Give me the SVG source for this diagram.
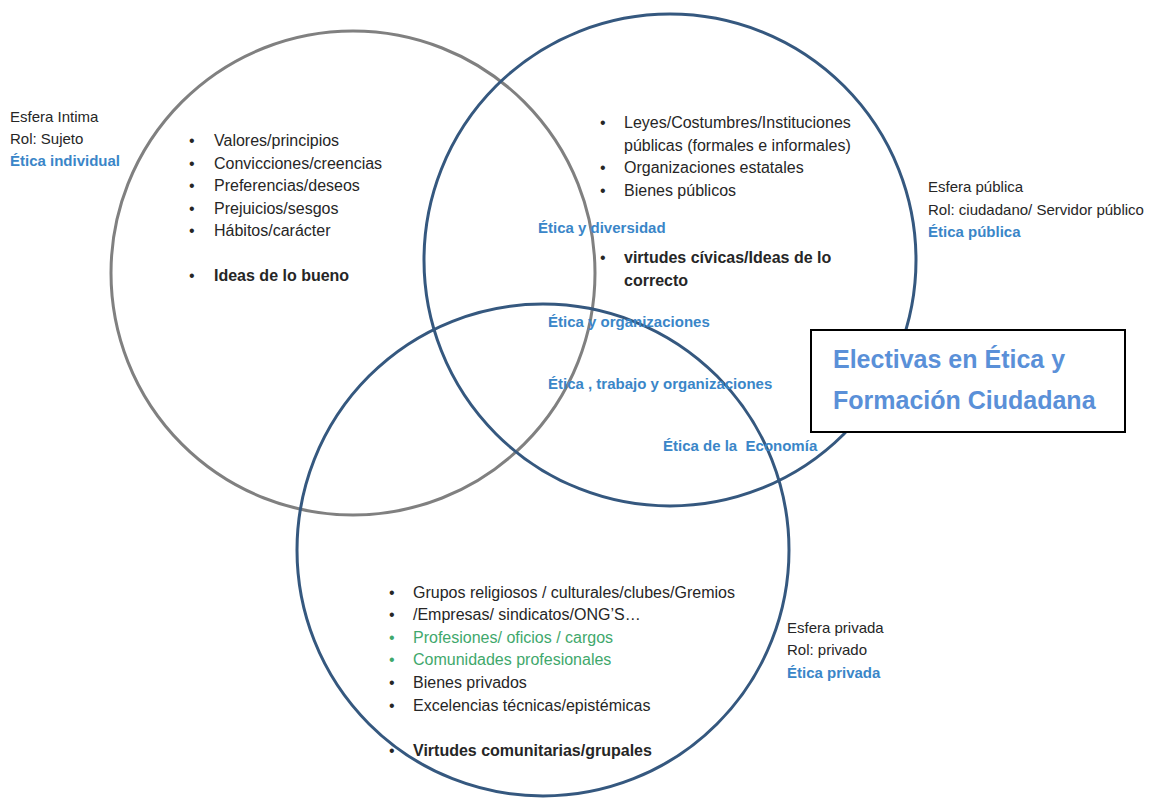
<svg xmlns="http://www.w3.org/2000/svg" width="1168" height="798" viewBox="0 0 1168 798">
<style>
text{font-family:"Liberation Sans",Arial,sans-serif;font-size:16px;fill:#262626}
.b{font-weight:bold}
.lbl{font-size:15px;fill:#262626}
.blue{font-size:15px;font-weight:bold;fill:#3a86c8}
.green{fill:#3fa86c}
.circG{fill:none;stroke:#808080;stroke-width:3}
.circB{fill:none;stroke:#35587f;stroke-width:3}
.title{font-size:25px;font-weight:bold;fill:#5a90d8}
</style>
<rect width="1168" height="798" fill="#ffffff"/>
<g id="circle-intima"><circle class="circG" cx="353" cy="273" r="242"/></g>
<g id="circle-publica"><circle class="circB" cx="670" cy="260" r="246"/></g>
<g id="circle-privada"><circle class="circB" cx="543" cy="550" r="246"/></g>

<g id="label-intima">
<text class="lbl" x="10" y="122">Esfera Intima</text>
<text class="lbl" x="10" y="144">Rol: Sujeto</text>
<text class="blue" x="10" y="166">Ética individual</text>
</g>

<g id="list-intima">
<text x="189" y="146">•</text><text x="214" y="146">Valores/principios</text>
<text x="189" y="169">•</text><text x="214" y="169">Convicciones/creencias</text>
<text x="189" y="191">•</text><text x="214" y="191">Preferencias/deseos</text>
<text x="189" y="214">•</text><text x="214" y="214">Prejuicios/sesgos</text>
<text x="189" y="236">•</text><text x="214" y="236">Hábitos/carácter</text>
<text x="189" y="281">•</text><text class="b" x="214" y="281">Ideas de lo bueno</text>
</g>

<g id="list-publica">
<text x="600" y="128">•</text><text x="624" y="128">Leyes/Costumbres/Instituciones</text>
<text x="624" y="151">públicas (formales e informales)</text>
<text x="600" y="173">•</text><text x="624" y="173">Organizaciones estatales</text>
<text x="600" y="196">•</text><text x="624" y="196">Bienes públicos</text>
<text class="blue" x="538" y="233">Ética y diversidad</text>
<text x="600" y="263">•</text><text class="b" x="624" y="263">virtudes cívicas/Ideas de lo</text>
<text class="b" x="624" y="286">correcto</text>
</g>

<g id="label-publica">
<text class="lbl" x="928" y="192">Esfera pública</text>
<text class="lbl" x="928" y="215">Rol: ciudadano/ Servidor público</text>
<text class="blue" x="928" y="237">Ética pública</text>
</g>

<g id="intersections">
<text class="blue" x="548" y="327">Ética y organizaciones</text>
<text class="blue" x="548" y="389">Ética , trabajo y organizaciones</text>
<text class="blue" x="663" y="451" xml:space="preserve">Ética de la  Economía</text>
</g>

<g id="list-privada">
<text x="389" y="598">•</text><text x="413" y="598">Grupos religiosos / culturales/clubes/Gremios</text>
<text x="389" y="620">•</text><text x="413" y="620">/Empresas/ sindicatos/ONG’S…</text>
<text class="green" x="389" y="643">•</text><text class="green" x="413" y="643">Profesiones/ oficios / cargos</text>
<text class="green" x="389" y="665">•</text><text class="green" x="413" y="665">Comunidades profesionales</text>
<text x="389" y="688">•</text><text x="413" y="688">Bienes privados</text>
<text x="389" y="711">•</text><text x="413" y="711">Excelencias técnicas/epistémicas</text>
<text x="389" y="756">•</text><text class="b" x="413" y="756">Virtudes comunitarias/grupales</text>
</g>

<g id="label-privada">
<text class="lbl" x="787" y="633">Esfera privada</text>
<text class="lbl" x="787" y="655">Rol: privado</text>
<text class="blue" x="787" y="678">Ética privada</text>
</g>

<g id="title-box">
<rect x="811" y="330" width="314" height="102" fill="#ffffff" stroke="#000000" stroke-width="2"/>
<text class="title" x="833" y="368">Electivas en Ética y</text>
<text class="title" x="833" y="409">Formación Ciudadana</text>
</g>
</svg>
